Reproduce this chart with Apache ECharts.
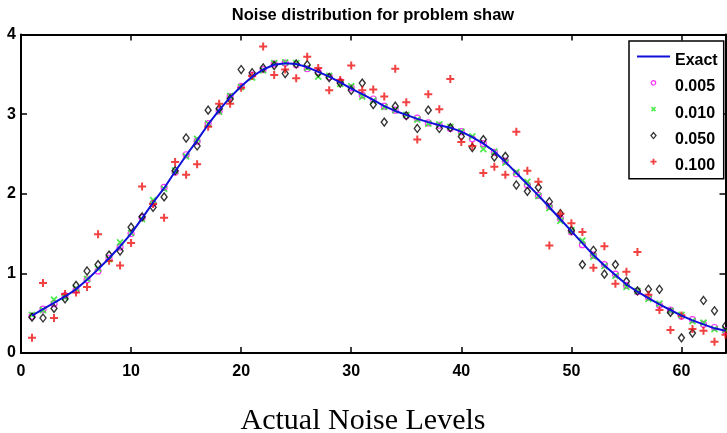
<!DOCTYPE html>
<html>
<head>
<meta charset="utf-8">
<script src="https://cdn.jsdelivr.net/npm/echarts@6/dist/echarts.min.js"></script>
<style>
  html, body { margin: 0; padding: 0; background: #fff; }
  #chart { width: 727px; height: 433px; }
</style>
</head>
<body>
<div id="chart"></div>
<script>
// sample index 1..64
const xIdx = [];
for (let i = 1; i <= 64; i++) xIdx.push(i);

const xTicks = [0, 10, 20, 30, 40, 50, 60];
const yTicks = [0, 1, 2, 3, 4];

const exact = [0.47, 0.55, 0.63, 0.71, 0.80, 0.92, 1.05, 1.19, 1.34, 1.50,
  1.69, 1.89, 2.07, 2.28, 2.48, 2.67, 2.87, 3.05, 3.21, 3.35,
  3.47, 3.56, 3.62, 3.64, 3.63, 3.59, 3.53, 3.47, 3.40, 3.32,
  3.25, 3.18, 3.10, 3.04, 2.99, 2.94, 2.90, 2.86, 2.83, 2.78,
  2.71, 2.63, 2.53, 2.40, 2.26, 2.12, 1.98, 1.83, 1.68, 1.53,
  1.38, 1.23, 1.10, 0.98, 0.86, 0.77, 0.69, 0.61, 0.54, 0.47,
  0.41, 0.36, 0.31, 0.28];

const noise005 = [0.46, 0.55, 0.62, 0.72, 0.79, 0.92, 1.03, 1.19, 1.33, 1.50,
  1.70, 1.88, 2.08, 2.27, 2.49, 2.66, 2.88, 3.04, 3.22, 3.35,
  3.49, 3.56, 3.63, 3.64, 3.62, 3.57, 3.53, 3.47, 3.41, 3.33,
  3.24, 3.19, 3.10, 3.05, 2.98, 2.95, 2.89, 2.86, 2.82, 2.78,
  2.69, 2.63, 2.52, 2.41, 2.25, 2.11, 1.98, 1.84, 1.69, 1.52,
  1.36, 1.23, 1.11, 0.99, 0.85, 0.77, 0.70, 0.60, 0.54, 0.46,
  0.42, 0.36, 0.32, 0.28];

const noise010 = [0.48, 0.54, 0.67, 0.70, 0.81, 0.93, 1.06, 1.18, 1.39, 1.51,
  1.68, 1.92, 2.06, 2.29, 2.47, 2.69, 2.88, 3.03, 3.23, 3.34,
  3.46, 3.55, 3.64, 3.65, 3.64, 3.58, 3.47, 3.48, 3.38, 3.35,
  3.22, 3.17, 3.09, 3.05, 2.99, 2.93, 2.88, 2.87, 2.84, 2.78,
  2.72, 2.56, 2.53, 2.39, 2.27, 2.15, 1.97, 1.82, 1.66, 1.54,
  1.41, 1.21, 1.09, 0.97, 0.83, 0.78, 0.68, 0.62, 0.53, 0.48,
  0.40, 0.38, 0.30, 0.29];

const noise050 = [0.45, 0.44, 0.56, 0.68, 0.85, 1.03, 1.11, 1.23, 1.28, 1.58,
  1.71, 1.83, 1.96, 2.29, 2.70, 2.60, 3.05, 3.07, 3.19, 3.56,
  3.52, 3.58, 3.61, 3.51, 3.63, 3.62, 3.52, 3.46, 3.39, 3.30,
  3.39, 3.12, 2.90, 3.10, 2.98, 2.82, 3.05, 2.82, 2.83, 2.72,
  2.58, 2.68, 2.46, 2.47, 2.11, 2.03, 2.08, 1.90, 1.75, 1.54,
  1.11, 1.29, 0.99, 1.11, 0.90, 0.78, 0.80, 0.80, 0.51, 0.19,
  0.25, 0.66, 0.53, 0.34];

const noise100 = [0.19, 0.88, 0.44, 0.74, 0.76, 0.83, 1.49, 1.16, 1.10, 1.38,
  2.09, 1.87, 1.70, 2.40, 2.24, 2.37, 2.84, 3.13, 3.13, 3.33,
  3.48, 3.85, 3.49, 3.56, 3.45, 3.72, 3.58, 3.30, 3.43, 3.61,
  3.30, 3.31, 3.22, 3.57, 3.15, 2.68, 3.25, 3.06, 3.44, 2.65,
  2.60, 2.26, 2.34, 2.24, 2.78, 2.29, 2.15, 1.35, 1.75, 1.63,
  1.52, 1.07, 1.34, 0.87, 1.02, 1.27, 0.73, 0.54, 0.29, 0.47,
  0.30, 0.28, 0.14, 0.23];

const seriesNames = ['Exact', '0.005', '0.010', '0.050', '0.100'];

function pairs(vals) {
  return vals.map((v, k) => [xIdx[k], v]);
}

const boldFont = {
  color: '#000',
  fontFamily: 'Liberation Sans, Arial, sans-serif',
  fontWeight: 'bold',
  fontSize: 16
};

const clear = 'rgba(0,0,0,0)';
const blue = '#1010d8';
const magenta = '#ff00ff';
const green = '#22e622';
const red = '#ee1111';

// legend icons padded to the 33x14 cell; marks sit a bit above the text middle
const iconLine = 'path://M0,0M33,14M0,3L33,3';
const iconCircle = 'path://M0,0M33,14M18.7,3A2.2,2.2,0,1,1,14.3,3A2.2,2.2,0,1,1,18.7,3Z';
const iconX = 'path://M0,0M33,14M14.5,1L18.5,5M18.5,1L14.5,5';
const iconDiamond = 'path://M0,0M33,14M16.5,0.2L19,3.2L16.5,6.2L14,3.2Z';
const iconPlus = 'path://M0,0M33,14M16.5,0L16.5,6M13.5,3L19.5,3';

function axisBase(showLabel, position) {
  return {
    position: position,
    min: 0,
    axisLine: { show: true, onZero: false, lineStyle: { color: '#000', width: 2 } },
    axisTick: { show: true, inside: true, length: 6, lineStyle: { color: '#000', width: 1.5 } },
    splitLine: { show: false },
    axisLabel: Object.assign({ show: showLabel, showMaxLabel: false }, boldFont)
  };
}

const chart = echarts.init(document.getElementById('chart'), null, { renderer: 'canvas' });

const xBottom = Object.assign(axisBase(true, 'bottom'), {
  type: 'value', max: 64, interval: xTicks[1] - xTicks[0]
});
xBottom.axisLabel.margin = 11;
const xTop = Object.assign(axisBase(false, 'top'), {
  type: 'value', max: 64, interval: xTicks[1] - xTicks[0]
});
const yLeft = Object.assign(axisBase(true, 'left'), {
  type: 'value', max: yTicks[yTicks.length - 1], interval: yTicks[1] - yTicks[0]
});
yLeft.axisLabel.margin = 5;
yLeft.axisLabel.showMaxLabel = true;
const yRight = Object.assign(axisBase(false, 'right'), {
  type: 'value', max: yTicks[yTicks.length - 1], interval: yTicks[1] - yTicks[0]
});

chart.setOption({
  animation: false,
  backgroundColor: '#fff',
  grid: { left: 21, right: 1.5, top: 34.5, bottom: 80, containLabel: false },
  xAxis: [xBottom, xTop],
  yAxis: [yLeft, yRight],
  legend: {
    orient: 'vertical',
    left: 629,
    top: 41,
    padding: [11.5, 6, 5, 7],
    itemWidth: 33,
    itemHeight: 14,
    itemGap: 10.3,
    selectedMode: false,
    backgroundColor: '#fff',
    borderColor: '#000',
    borderWidth: 1.5,
    borderRadius: 0,
    textStyle: boldFont,
    data: [
      { name: seriesNames[0], icon: iconLine,
        itemStyle: { color: clear, borderColor: blue, borderWidth: 2 } },
      { name: seriesNames[1], icon: iconCircle,
        itemStyle: { color: clear, borderColor: magenta, borderWidth: 1.2 } },
      { name: seriesNames[2], icon: iconX,
        itemStyle: { color: clear, borderColor: green, borderWidth: 1.6 } },
      { name: seriesNames[3], icon: iconDiamond,
        itemStyle: { color: clear, borderColor: '#000', borderWidth: 1.3 } },
      { name: seriesNames[4], icon: iconPlus,
        itemStyle: { color: clear, borderColor: red, borderWidth: 1.8 } }
    ]
  },
  graphic: [
    {
      type: 'text', x: 373, y: 15,
      style: {
        text: 'Noise distribution for problem shaw',
        fill: '#000', font: 'bold 16.5px "Liberation Sans", Arial, sans-serif',
        textAlign: 'center', textVerticalAlign: 'middle'
      }
    },
    {
      type: 'text', x: 363, y: 421,
      style: {
        text: 'Actual Noise Levels',
        fill: '#000', font: '30px "Liberation Serif", "Times New Roman", serif',
        textAlign: 'center', textVerticalAlign: 'middle'
      }
    }
  ],
  series: [
    {
      name: seriesNames[0], type: 'line', data: pairs(exact),
      symbol: 'none', lineStyle: { color: blue, width: 2 },
      itemStyle: { color: blue }
    },
    {
      name: seriesNames[1], type: 'scatter', data: pairs(noise005),
      symbol: 'circle', symbolSize: 6,
      itemStyle: { color: clear, borderColor: magenta, borderWidth: 1.2 }
    },
    {
      name: seriesNames[2], type: 'scatter', data: pairs(noise010),
      symbol: 'path://M0,0L1,1M1,0L0,1', symbolSize: 6,
      itemStyle: { color: clear, borderColor: green, borderWidth: 1.8 }
    },
    {
      name: seriesNames[3], type: 'scatter', data: pairs(noise050),
      symbol: 'diamond', symbolSize: [6, 8],
      itemStyle: { color: clear, borderColor: '#000', borderWidth: 1.4 }
    },
    {
      name: seriesNames[4], type: 'scatter', data: pairs(noise100),
      symbol: 'path://M0.5,0L0.5,1M0,0.5L1,0.5', symbolSize: 8,
      itemStyle: { color: clear, borderColor: red, borderWidth: 2 }
    }
  ]
});
</script>
</body>
</html>
